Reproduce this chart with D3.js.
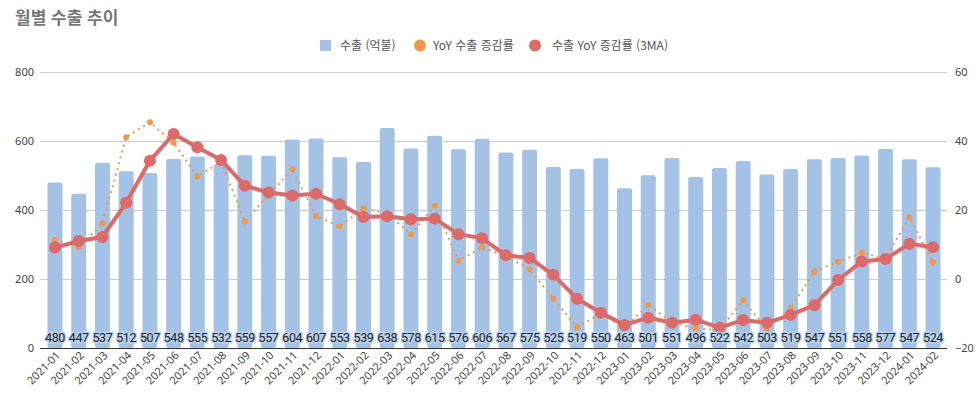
<!DOCTYPE html>
<html lang="ko">
<head>
<meta charset="utf-8">
<title>월별 수출 추이</title>
<script src="https://cdn.jsdelivr.net/npm/d3@7"></script>
<style>
  body { margin: 0; background: #fff; font-family: "Noto Sans CJK KR", "Noto Sans", sans-serif; }
  .title { font-size: 17px; font-weight: bold; fill: #777; }
  .legend text { font-size: 12px; fill: #555; }
  .axis text { font-size: 11px; fill: #444; font-family: "Noto Sans", "Noto Sans CJK KR", sans-serif; }
  .axis path, .axis line { stroke: none; }
  .grid line { stroke: #ccc; }
  .val { font-size: 12.5px; fill: #222; font-family: Roboto, "Noto Sans", sans-serif; letter-spacing: -0.4px;
         paint-order: stroke; stroke: #bcd3ee; stroke-width: 3px; stroke-linejoin: round; }
</style>
</head>
<body>
<div id="chart"></div>
<script>
// months
var months = ["2021-01","2021-02","2021-03","2021-04","2021-05","2021-06","2021-07","2021-08","2021-09","2021-10","2021-11","2021-12",
              "2022-01","2022-02","2022-03","2022-04","2022-05","2022-06","2022-07","2022-08","2022-09","2022-10","2022-11","2022-12",
              "2023-01","2023-02","2023-03","2023-04","2023-05","2023-06","2023-07","2023-08","2023-09","2023-10","2023-11","2023-12",
              "2024-01","2024-02"];
// 수출 (억불)
var exports = [480,447,537,512,507,548,555,532,559,557,604,607,
               553,539,638,578,615,576,606,567,575,525,519,550,
               463,501,551,496,522,542,503,519,547,551,558,577,
               547,524];
// YoY 수출 증감률 (%)
var yoy = [11.3,9.2,16.1,41.1,45.4,39.5,29.7,34.0,16.7,24.3,31.9,18.3,
           15.2,20.5,19.0,12.9,21.2,5.2,9.2,6.7,2.8,-5.7,-14.0,-10.0,
           -14.2,-7.5,-12.6,-14.3,-14.8,-6.1,-14.5,-8.5,2.2,5.0,7.6,6.0,
           17.9,4.8];
// 수출 YoY 증감률 (3MA)
var ma3 = [9.1,11.0,12.2,22.1,34.3,42.0,38.2,34.5,27.0,25.1,24.2,24.7,
           21.7,18.0,18.2,17.3,17.5,13.0,11.8,6.9,6.1,1.2,-5.7,-9.8,
           -13.3,-11.2,-12.7,-11.8,-14.1,-11.9,-12.7,-10.4,-7.6,-0.3,5.1,5.8,
           10.2,9.2];
var leftTicks = [0,200,400,600,800];
var rightTicks = [-20,0,20,40,60];

var W = 976, H = 398;
var barColor = "#a4c2e5", orange = "#f0994a", red = "#db6a68";

var svg = d3.select("#chart").append("svg").attr("width", W).attr("height", H);

var x = d3.scaleBand().domain(months).range([43, 945]).paddingInner(0.37).paddingOuter(0.19);
var yL = d3.scaleLinear().domain([0, 800]).range([348, 72]);
var yR = d3.scaleLinear().domain([-20, 60]).range([348, 72]);
var cx = function(d, i) { return x(months[i]) + x.bandwidth() / 2; };

svg.append("text").attr("class", "title").attr("x", 15).attr("y", 24).text("월별 수출 추이");

// grid
svg.append("g").attr("class", "grid").selectAll("line")
  .data(leftTicks.slice(1)).enter().append("line")
  .attr("x1", 40).attr("x2", 947)
  .attr("y1", function(d) { return yL(d) + 0.5; }).attr("y2", function(d) { return yL(d) + 0.5; });

// bars
svg.append("g").selectAll("rect").data(exports).enter().append("rect")
  .attr("x", function(d, i) { return x(months[i]); })
  .attr("width", x.bandwidth())
  .attr("y", function(d) { return yL(d); })
  .attr("height", function(d) { return yL(0) - yL(d); })
  .attr("rx", 2)
  .attr("fill", barColor);

// baseline
svg.append("line").attr("x1", 40).attr("x2", 947).attr("y1", 348.5).attr("y2", 348.5)
  .attr("stroke", "#333").attr("stroke-width", 1);

// YoY dotted line
var line = d3.line().x(cx).y(function(d) { return yR(d); });
svg.append("path").attr("d", line(yoy)).attr("fill", "none")
  .attr("stroke", orange).attr("stroke-width", 2).attr("stroke-dasharray", "2,4");
svg.append("g").selectAll("circle").data(yoy).enter().append("circle")
  .attr("cx", cx).attr("cy", function(d) { return yR(d); }).attr("r", 3).attr("fill", orange);

// 3MA line
svg.append("path").attr("d", line(ma3)).attr("fill", "none")
  .attr("stroke", red).attr("stroke-width", 4).attr("stroke-linejoin", "round");
svg.append("g").selectAll("circle").data(ma3).enter().append("circle")
  .attr("cx", cx).attr("cy", function(d) { return yR(d); }).attr("r", 6).attr("fill", red);

// bar value labels
svg.append("g").selectAll("text").data(exports).enter().append("text")
  .attr("class", "val")
  .attr("x", cx).attr("y", 342)
  .attr("text-anchor", "middle")
  .text(function(d) { return d; });

// axes
svg.append("g").attr("class", "axis").attr("transform", "translate(40,0)")
  .call(d3.axisLeft(yL).tickValues(leftTicks).tickSize(0).tickPadding(6));
svg.append("g").attr("class", "axis").attr("transform", "translate(947,0)")
  .call(d3.axisRight(yR).tickValues(rightTicks).tickSize(0).tickPadding(8));
var axB = svg.append("g").attr("class", "axis").attr("transform", "translate(0,348)")
  .call(d3.axisBottom(x).tickSize(0).tickPadding(0));
axB.selectAll("text")
  .attr("text-anchor", "end")
  .attr("dy", null)
  .attr("transform", "translate(6,8) rotate(-45)");

// legend
var legend = svg.append("g").attr("class", "legend");
legend.append("rect").attr("x", 320).attr("y", 40).attr("width", 11).attr("height", 11).attr("fill", barColor);
legend.append("text").attr("x", 340).attr("y", 50).text("수출 (억불)");
legend.append("circle").attr("cx", 420).attr("cy", 45.5).attr("r", 6).attr("fill", orange);
legend.append("text").attr("x", 433).attr("y", 50).text("YoY 수출 증감률");
legend.append("circle").attr("cx", 535).attr("cy", 45.5).attr("r", 6).attr("fill", red);
legend.append("text").attr("x", 552).attr("y", 50).text("수출 YoY 증감률 (3MA)");
</script>
</body>
</html>
